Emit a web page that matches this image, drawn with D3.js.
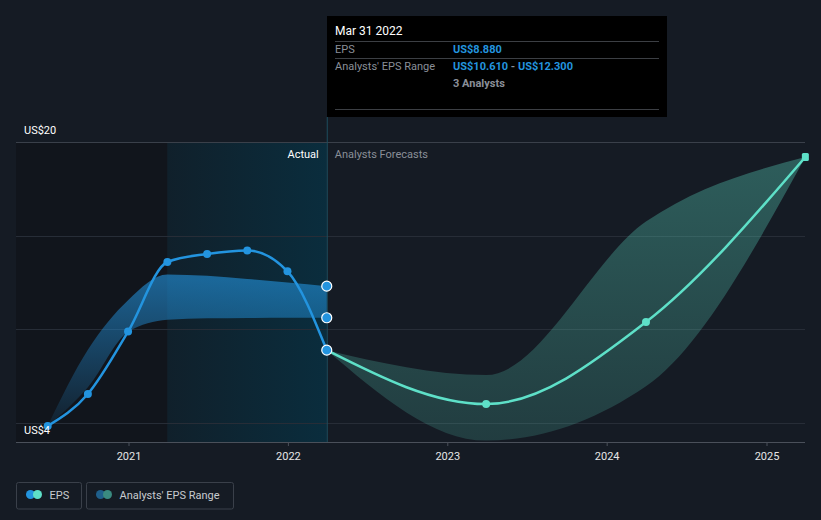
<!DOCTYPE html>
<html lang="en">
<head>
  <meta charset="UTF-8">
  <title>EPS and Analysts' EPS Range</title>
  <script src="https://d3js.org/d3.v7.min.js"></script>
  <style>
    html, body {
      margin: 0;
      padding: 0;
      background: #151b24;
    }
    svg {
      display: block;
      font-family: Roboto, "Noto Sans", sans-serif;
    }
  </style>
</head>
<body>
  <svg id="chart" width="821" height="520"></svg>

  <script>
    // actual EPS, quarterly
    const actualDates = ["2020-06-30", "2020-09-30", "2020-12-31", "2021-03-31",
      "2021-06-30", "2021-09-30", "2021-12-31", "2022-03-31"];
    const actualEps = [4.83, 6.54, 9.87, 13.59, 14.02, 14.21, 13.09, 8.88];

    // analysts' past estimate range (low / high)
    const rangeLow = [4.83, 6.9, 9.85, 10.5, 10.58, 10.6, 10.61, 10.61];
    const rangeHigh = [4.83, 8.9, 11.55, 12.92, 12.85, 12.68, 12.5, 12.3];

    // forecasts
    const forecastDates = ["2022-03-31", "2023-03-31", "2024-03-31", "2025-03-31"];
    const forecastEps = [8.88, 6.0, 10.38, 19.2];
    const forecastLow = [8.88, 4.05, 6.95, 19.2];
    const forecastHigh = [8.88, 7.55, 15.75, 19.2];

    const yearTicks = ["2021", "2022", "2023", "2024", "2025"];
    const gridValues = [5, 10, 15, 20];

    const parse = d3.utcParse("%Y-%m-%d");
    const svg = d3.select("#chart");

    const x = d3.scaleUtc()
      .domain([parse("2021-01-01"), parse("2025-01-01")])
      .range([128.5, 766.5]);
    const y = d3.scaleLinear()
      .domain([4, 20])
      .range([441.5, 142]);

    const plotLeft = 16, plotRight = 805, plotTop = 142, plotBottom = 442;
    const splitDate = parse("2022-03-31");
    const highlightStart = parse("2021-03-31");

    const defs = svg.append("defs");

    const hl = defs.append("linearGradient").attr("id", "hl")
      .attr("x1", "0").attr("x2", "1").attr("y1", "0").attr("y2", "0");
    hl.append("stop").attr("offset", "0").attr("stop-color", "#10202b");
    hl.append("stop").attr("offset", "1").attr("stop-color", "#0a2d3d");

    const bandBlue = defs.append("linearGradient").attr("id", "bandBlue")
      .attr("gradientUnits", "userSpaceOnUse")
      .attr("x1", 0).attr("x2", 0).attr("y1", 280).attr("y2", 430);
    bandBlue.append("stop").attr("offset", "0").attr("stop-color", "#2394df").attr("stop-opacity", 0.6);
    bandBlue.append("stop").attr("offset", "1").attr("stop-color", "#2394df").attr("stop-opacity", 0.08);

    const bandTeal = defs.append("linearGradient").attr("id", "bandTeal")
      .attr("gradientUnits", "userSpaceOnUse")
      .attr("x1", 0).attr("x2", 0).attr("y1", 150).attr("y2", 440);
    bandTeal.append("stop").attr("offset", "0").attr("stop-color", "#5ee0c8").attr("stop-opacity", 0.34);
    bandTeal.append("stop").attr("offset", "1").attr("stop-color", "#5ee0c8").attr("stop-opacity", 0.17);

    // background regions
    svg.append("rect")
      .attr("x", plotLeft).attr("y", plotTop)
      .attr("width", x(highlightStart) - plotLeft).attr("height", plotBottom - plotTop)
      .attr("fill", "#11151c");
    svg.append("rect")
      .attr("x", x(highlightStart)).attr("y", plotTop)
      .attr("width", x(splitDate) - x(highlightStart)).attr("height", plotBottom - plotTop)
      .attr("fill", "url(#hl)");

    // grid
    svg.append("g").selectAll("line")
      .data(gridValues)
      .enter().append("line")
      .attr("x1", plotLeft).attr("x2", plotRight)
      .attr("y1", d => Math.round(y(d)) + 0.5).attr("y2", d => Math.round(y(d)) + 0.5)
      .attr("stroke", d => d === 20 ? "#3a404a" : "#272d37")
      .attr("stroke-width", 1);

    // x axis
    const axis = svg.append("g")
      .attr("transform", `translate(0,${plotBottom})`)
      .call(d3.axisBottom(x)
        .tickValues(yearTicks.map(t => parse(t + "-01-01")))
        .tickFormat(d3.utcFormat("%Y"))
        .tickSize(4)
        .tickPadding(6));
    axis.select(".domain").attr("d", `M${plotLeft},0.5H${plotRight}`).attr("stroke", "#4a505a");
    axis.selectAll(".tick line").attr("stroke", "#4a505a");
    axis.selectAll(".tick text")
      .attr("fill", "#e6e6e6")
      .style("font-size", "11px")
      .style("font-family", "Roboto, sans-serif");

    // split line
    svg.append("line")
      .attr("x1", x(splitDate) + 0.5).attr("x2", x(splitDate) + 0.5)
      .attr("y1", 117).attr("y2", plotBottom)
      .attr("stroke", "#1d4d5e").attr("stroke-width", 1);

    const curve = d3.curveMonotoneX;

    // past estimate band
    const pastRange = actualDates.map((d, i) => ({ date: parse(d), lo: rangeLow[i], hi: rangeHigh[i] }));
    svg.append("path")
      .datum(pastRange)
      .attr("fill", "url(#bandBlue)")
      .attr("d", d3.area().curve(curve)
        .x(d => x(d.date)).y0(d => y(d.lo)).y1(d => y(d.hi)));

    // forecast band
    const futRange = forecastDates.map((d, i) => ({ date: parse(d), lo: forecastLow[i], hi: forecastHigh[i] }));
    svg.append("path")
      .datum(futRange)
      .attr("fill", "url(#bandTeal)")
      .attr("d", d3.area().curve(curve)
        .x(d => x(d.date)).y0(d => y(d.lo)).y1(d => y(d.hi)));

    // lines
    const actual = actualDates.map((d, i) => ({ date: parse(d), v: actualEps[i] }));
    const forecast = forecastDates.map((d, i) => ({ date: parse(d), v: forecastEps[i] }));
    const line = d3.line().curve(curve).x(d => x(d.date)).y(d => y(d.v));

    svg.append("path").datum(forecast)
      .attr("fill", "none").attr("stroke", "#5ee0c8").attr("stroke-width", 2.5)
      .attr("d", line);
    svg.append("path").datum(actual)
      .attr("fill", "none").attr("stroke", "#2394df").attr("stroke-width", 2.5)
      .attr("d", line);

    // markers
    svg.append("g").selectAll("circle")
      .data(forecast.slice(1, 3))
      .enter().append("circle")
      .attr("cx", d => x(d.date)).attr("cy", d => y(d.v)).attr("r", 4)
      .attr("fill", "#5ee0c8");
    const lastF = forecast[forecast.length - 1];
    svg.append("rect")
      .attr("x", x(lastF.date) - 3.5).attr("y", y(lastF.v) - 4)
      .attr("width", 7).attr("height", 8).attr("rx", 1.5)
      .attr("fill", "#5ee0c8");

    svg.append("g").selectAll("circle")
      .data(actual.slice(0, actual.length - 1))
      .enter().append("circle")
      .attr("cx", d => x(d.date)).attr("cy", d => y(d.v)).attr("r", 4)
      .attr("fill", "#2394df");

    const lastR = pastRange[pastRange.length - 1];
    const endPts = [lastR.hi, lastR.lo, actual[actual.length - 1].v];
    svg.append("g").selectAll("circle")
      .data(endPts)
      .enter().append("circle")
      .attr("cx", x(splitDate)).attr("cy", d => y(d)).attr("r", 5)
      .attr("fill", "#2394df").attr("stroke", "#ffffff").attr("stroke-width", 1.2);

    // labels
    svg.append("text").attr("x", 24).attr("y", 134)
      .attr("fill", "#ffffff").style("font-size", "11px").text("US$20");
    svg.append("text").attr("x", 24).attr("y", 434)
      .attr("fill", "#ffffff").style("font-size", "11px").text("US$4");

    svg.append("text").attr("x", x(splitDate) - 8).attr("y", 158)
      .attr("text-anchor", "end").attr("fill", "#ffffff").style("font-size", "11px").text("Actual");
    svg.append("text").attr("x", x(splitDate) + 8).attr("y", 158)
      .attr("fill", "#8a8f98").style("font-size", "11px").text("Analysts Forecasts");

    // tooltip box
    const tip = svg.append("g");
    tip.append("rect").attr("x", 327).attr("y", 16).attr("width", 340).attr("height", 101).attr("fill", "#000000");
    [41.5, 58.5, 109.5].forEach(yy => {
      tip.append("line").attr("x1", 335).attr("x2", 659).attr("y1", yy).attr("y2", yy)
        .attr("stroke", "#3c3f44").attr("stroke-width", 1);
    });
    tip.append("text").attr("x", 335).attr("y", 35).attr("fill", "#ffffff")
      .style("font-size", "12px").text("Mar 31 2022");
    tip.append("text").attr("x", 335).attr("y", 53).attr("fill", "#8a8f98")
      .style("font-size", "11px").text("EPS");
    tip.append("text").attr("x", 453).attr("y", 53).attr("fill", "#2394df")
      .style("font-size", "11px").style("font-weight", "bold").text("US$" + actualEps[actualEps.length - 1].toFixed(3));
    tip.append("text").attr("x", 335).attr("y", 70).attr("fill", "#8a8f98")
      .style("font-size", "11px").text("Analysts' EPS Range");
    const rt = tip.append("text").attr("x", 453).attr("y", 70).style("font-size", "11px").style("font-weight", "bold");
    rt.append("tspan").attr("fill", "#2394df").text("US$" + lastR.lo.toFixed(3));
    rt.append("tspan").attr("fill", "#8a8f98").text(" - ");
    rt.append("tspan").attr("fill", "#2394df").text("US$" + lastR.hi.toFixed(3));
    tip.append("text").attr("x", 453).attr("y", 87).attr("fill", "#8a8f98")
      .style("font-size", "11px").style("font-weight", "bold").text("3 Analysts");

    // legend
    const legend = [
      { label: "EPS", x: 16.5, w: 65, c1: "#2394df", c2: "#5ee0c8" },
      { label: "Analysts' EPS Range", x: 86.5, w: 147, c1: "#1f5f8b", c2: "#3a8a80" }
    ];
    const lg = svg.append("g").selectAll("g")
      .data(legend)
      .enter().append("g")
      .attr("transform", d => `translate(${d.x},482.5)`);
    lg.append("rect").attr("width", d => d.w).attr("height", 26.5).attr("rx", 2)
      .attr("fill", "none").attr("stroke", "#3a404a");
    lg.append("circle").attr("cx", 14).attr("cy", 12).attr("r", 4.5).attr("fill", d => d.c1);
    lg.append("circle").attr("cx", 21).attr("cy", 12).attr("r", 4.5).attr("fill", d => d.c2);
    lg.append("text").attr("x", 33).attr("y", 16.5).attr("fill", "#c8cbd0")
      .style("font-size", "11px").text(d => d.label);
  </script>
</body>
</html>
